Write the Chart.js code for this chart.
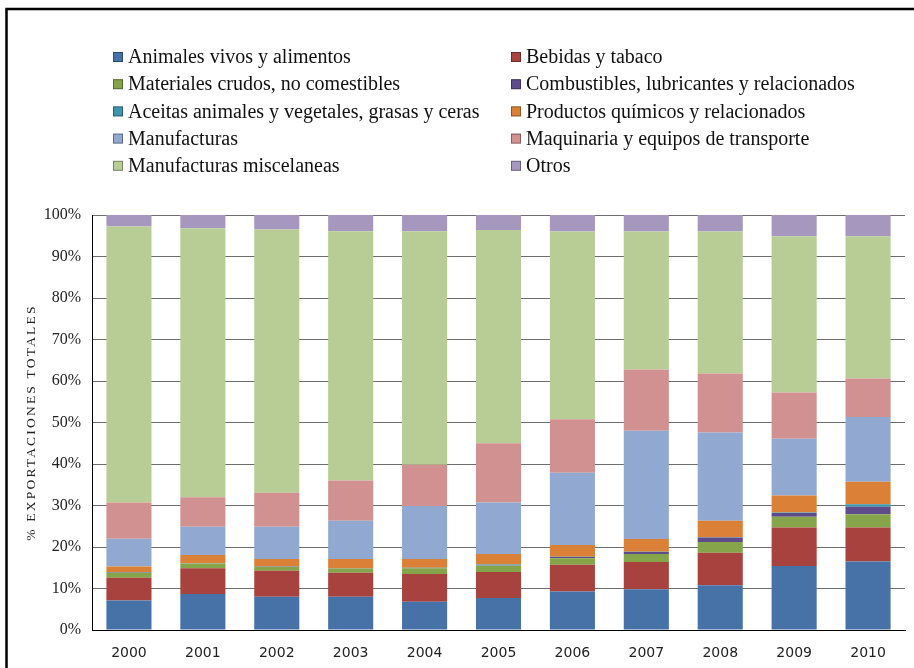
<!DOCTYPE html>
<html><head><meta charset="utf-8">
<script src="https://cdn.jsdelivr.net/npm/chart.js@4.4.1/dist/chart.umd.min.js"></script>
<style>html,body{margin:0;padding:0;background:#fff}#wrap{width:914px;height:668px;position:relative}canvas{display:block}</style>
</head><body><div id="wrap"><canvas id="c" width="914" height="668"></canvas></div>
<script>
// ---- data (percent of total exports) ----
const years = ['2000','2001','2002','2003','2004','2005','2006','2007','2008','2009','2010'];
const yTickValues = [0,10,20,30,40,50,60,70,80,90,100];
const yAxisTitle = '% EXPORTACIONES TOTALES';
const seriesNames = [
  'Animales vivos y alimentos',
  'Bebidas y tabaco',
  'Materiales crudos, no comestibles',
  'Combustibles, lubricantes y relacionados',
  'Aceitas animales y vegetales, grasas y ceras',
  'Productos químicos y relacionados',
  'Manufacturas',
  'Maquinaria y equipos de transporte',
  'Manufacturas miscelaneas',
  'Otros'
];
const animales      = [7.1, 8.7, 8.0, 8.0, 6.8, 7.7, 9.3, 9.8, 10.8, 15.4, 16.5];
const bebidas       = [5.5, 6.2, 6.3, 5.8, 6.7, 6.3, 6.4, 6.6, 7.8, 9.3, 8.2];
const materiales    = [1.2, 1.1, 0.9, 1.0, 1.4, 1.5, 1.6, 1.9, 2.6, 2.6, 3.2];
const combustibles  = [0.1, 0.05, 0.05, 0.05, 0.05, 0.05, 0.3, 0.5, 1.1, 0.9, 1.8];
const aceitas       = [0.1, 0.05, 0.05, 0.05, 0.05, 0.25, 0.05, 0.05, 0.05, 0.1, 0.6];
const quimicos      = [1.3, 2.0, 1.8, 2.2, 2.1, 2.5, 2.85, 3.05, 3.95, 4.1, 5.4];
const manufacturas  = [6.7, 6.8, 7.8, 9.2, 12.8, 12.4, 17.4, 26.1, 21.3, 13.7, 15.6];
const maquinaria    = [8.7, 7.1, 8.2, 9.7, 9.9, 14.3, 12.9, 14.8, 14.2, 11.1, 9.3];
const miscelaneas   = [66.5, 64.8, 63.4, 60.1, 56.3, 51.4, 45.2, 33.2, 34.2, 37.7, 34.3];
const otros         = [2.8, 3.2, 3.5, 3.9, 3.9, 3.6, 4.0, 4.0, 4.0, 5.1, 5.1];

const seriesValues = [animales, bebidas, materiales, combustibles, aceitas, quimicos, manufacturas, maquinaria, miscelaneas, otros];
const seriesColors = ['#4672A8','#A8423F','#86A44A','#5E4B8B','#3D96AE','#DA8137','#91A8D0','#D09190','#B7CD95','#A597BD'];

const datasets = seriesNames.map((n,i)=>({
  label: n,
  data: seriesValues[i],
  backgroundColor: seriesColors[i],
  borderWidth: 0,
  categoryPercentage: 1.0,
  barPercentage: 0.61
}));

const frame = {
  id:'frame',
  beforeDraw(chart){
    const ctx = chart.ctx;
    ctx.save();
    ctx.fillStyle = '#fff';
    ctx.fillRect(0,0,chart.width,chart.height);
    ctx.strokeStyle = '#000';
    ctx.lineWidth = 2.5;
    ctx.beginPath();
    ctx.moveTo(6.5, chart.height);
    ctx.lineTo(6.5, 9);
    ctx.lineTo(chart.width, 9);
    ctx.stroke();
    ctx.restore();
  }
};

const legend2col = {
  id:'legend2col',
  afterDraw(chart){
    const ctx = chart.ctx;
    ctx.save();
    ctx.font = '20px "Liberation Serif", "Times New Roman", serif';
    ctx.textBaseline = 'middle';
    ctx.textAlign = 'left';
    chart.data.datasets.forEach((ds,i)=>{
      const col = i % 2, row = Math.floor(i/2);
      const bx = col === 0 ? 113 : 511;
      const cy = 57 + row*27.2;
      ctx.fillStyle = ds.backgroundColor;
      ctx.fillRect(bx, cy-5, 10, 10);
      ctx.strokeStyle = 'rgba(0,0,0,0.35)';
      ctx.lineWidth = 1;
      ctx.strokeRect(bx+0.5, cy-4.5, 9, 9);
      ctx.fillStyle = '#111';
      ctx.fillText(ds.label, bx+15, cy+1);
    });
    ctx.restore();
  }
};

const yTitle = {
  id:'yTitle',
  afterDraw(chart){
    const ctx = chart.ctx, a = chart.chartArea;
    ctx.save();
    ctx.translate(31, (a.top+a.bottom)/2);
    ctx.rotate(-Math.PI/2);
    ctx.font = '13.5px "Liberation Serif", "Times New Roman", serif';
    try { ctx.letterSpacing = '2.2px'; } catch(e) {}
    ctx.fillStyle = '#222';
    ctx.textAlign = 'center';
    ctx.textBaseline = 'middle';
    ctx.fillText(yAxisTitle, 0, 0);
    ctx.restore();
  }
};

new Chart(document.getElementById('c'), {
  type:'bar',
  data:{ labels: years, datasets },
  options:{
    responsive:false,
    animation:false,
    devicePixelRatio:1,
    layout:{ padding:{ top:215, left:0, right:9, bottom:0 } },
    plugins:{ legend:{display:false}, tooltip:{enabled:false}, title:{display:false} },
    scales:{
      x:{
        stacked:true,
        grid:{ display:false },
        border:{ display:true, color:'#000', width:1 },
        ticks:{ color:'#222', font:{ family:'"DejaVu Sans", Verdana, sans-serif', size:14 }, padding:7, maxRotation:0 },
        afterFit(s){ s.height = 38; }
      },
      y:{
        stacked:true,
        min:0, max:100,
        afterBuildTicks(s){ s.ticks = yTickValues.map(v=>({value:v})); },
        grid:{ color:'#6e6e6e', lineWidth:1, drawTicks:false },
        border:{ display:true, color:'#000', width:1 },
        ticks:{ color:'#222', padding:11, font:{ family:'"Liberation Serif", "Times New Roman", serif', size:16 }, callback:v=>v+'%' },
        afterFit(s){ s.width = 92; }
      }
    }
  },
  plugins:[frame, legend2col, yTitle]
});
</script>
</body></html>
